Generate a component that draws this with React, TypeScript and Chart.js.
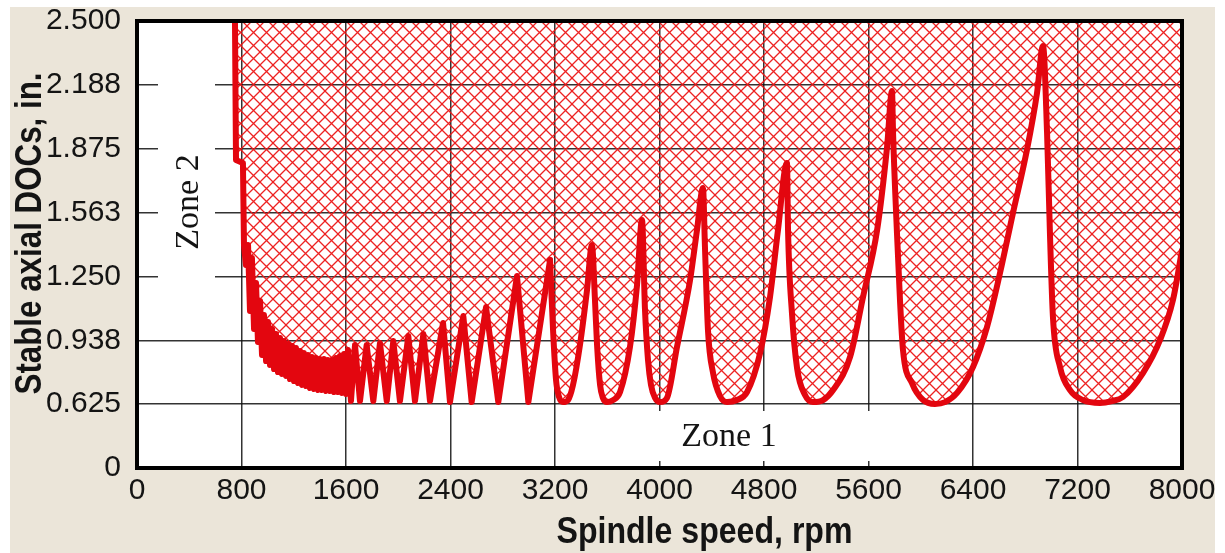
import { useEffect, useRef } from 'react';
import { Chart, registerables } from 'chart.js';

Chart.register(...registerables);

// Spindle speed (rpm) along the stability-lobe boundary
const spindleSpeedRpm = [
  750, 758, 811, 819,
  834, 850, 865, 880, 896, 911, 926, 942, 957, 972, 988, 1003, 1018, 1034, 1049, 1064,
  1079, 1095, 1110, 1125, 1141, 1156, 1171, 1187, 1202, 1217, 1233, 1248, 1263, 1278,
  1294, 1309, 1324, 1340, 1355, 1370, 1386, 1401, 1416, 1432, 1447, 1462, 1478, 1493,
  1508, 1523, 1539, 1554, 1569, 1585, 1600, 1615,
  1638, 1669, 1707, 1758, 1809, 1860, 1912, 1962, 2013, 2077, 2128, 2192, 2243, 2343,
  2396, 2498, 2562, 2672, 2766, 2909, 2996, 3162,
  3185, 3208, 3231, 3261, 3300, 3338, 3391, 3445, 3483,
  3506, 3522, 3545, 3567, 3598, 3644, 3698, 3774, 3828, 3866,
  3889, 3912, 3935, 3966, 4004, 4057, 4134, 4234, 4287, 4333,
  4348, 4371, 4410, 4463, 4517, 4593, 4670, 4770, 4846, 4907, 4976,
  4984, 5014, 5053, 5114, 5175, 5252, 5329, 5459, 5558, 5666, 5742, 5780,
  5788, 5818, 5841, 5864, 5933, 6018, 6109, 6186, 6278, 6400, 6507, 6607, 6706, 6813, 6890, 6936,
  6967, 6989, 7012, 7066, 7143, 7242, 7372, 7464, 7548, 7701, 7832, 7931, 8000,
];

// Stable axial depth of cut (in.) at each speed above
const stableDocIn = [
  2.5, 1.82, 1.805, 1.404,
  1.306, 1.404, 1.081, 1.34, 0.993, 1.218, 0.929, 1.13, 0.866, 1.061, 0.836, 1.027, 0.817, 0.993, 0.797, 0.968,
  0.782, 0.949, 0.773, 0.934, 0.763, 0.919, 0.748, 0.91, 0.738, 0.9, 0.728, 0.885, 0.719, 0.875,
  0.714, 0.866, 0.704, 0.856, 0.699, 0.851, 0.694, 0.846, 0.694, 0.846, 0.689, 0.841, 0.689, 0.841,
  0.684, 0.851, 0.684, 0.861, 0.68, 0.87, 0.675, 0.89,
  0.64, 0.914, 0.64, 0.914, 0.64, 0.924, 0.64, 0.934, 0.64, 0.958, 0.64, 0.968, 0.64, 1.022,
  0.635, 1.056, 0.635, 1.1, 0.635, 1.252, 0.635, 1.33,
  0.988, 0.743, 0.66, 0.635, 0.645, 0.719, 0.914, 1.183, 1.404,
  1.135, 0.914, 0.719, 0.655, 0.635, 0.645, 0.684, 0.905, 1.208, 1.526,
  1.086, 0.841, 0.719, 0.655, 0.635, 0.655, 0.905, 1.232, 1.477, 1.683,
  1.394, 0.988, 0.777, 0.665, 0.635, 0.645, 0.684, 0.875, 1.149, 1.477, 1.805,
  1.477, 1.071, 0.802, 0.67, 0.635, 0.645, 0.694, 0.856, 1.149, 1.477, 1.883, 2.157,
  1.952, 1.462, 1.135, 0.89, 0.728, 0.645, 0.626, 0.635, 0.68, 0.807, 1.002, 1.267, 1.56, 1.869, 2.147, 2.378,
  1.952, 1.462, 1.051, 0.807, 0.694, 0.645, 0.631, 0.64, 0.66, 0.777, 0.939, 1.135, 1.379,
];

// below this speed the lobes are narrow saw-teeth; above it they are rounded U-lobes
const sawToothEndRpm = 3162;

const xTickValues = [0, 800, 1600, 2400, 3200, 4000, 4800, 5600, 6400, 7200, 8000];
const xTickLabels = ['0', '800', '1600', '2400', '3200', '4000', '4800', '5600', '6400', '7200', '8000'];
// The axis is broken at the bottom: the lowest grid line is labelled 0
const yTickValues = [0.3125, 0.625, 0.9375, 1.25, 1.5625, 1.875, 2.1875, 2.5];
const yTickLabels = ['0', '0.625', '0.938', '1.250', '1.563', '1.875', '2.188', '2.500'];

const xAxisTitle = 'Spindle speed, rpm';
const yAxisTitle = 'Stable axial DOCs, in.';
const zoneStableLabel = 'Zone 1';
const zoneLowSpeedLabel = 'Zone 2';

const RED = '#e3060f';
const INK = '#141414';
const TITLE_FONT = "bold 37px 'Liberation Sans', Arial, sans-serif";
const ZONE_FONT = "34px 'Liberation Serif', 'Times New Roman', serif";

// draws condensed text: natural glyph height, squeezed to a target width
function drawCondensed(ctx: CanvasRenderingContext2D, text: string, width: number) {
  const natural = ctx.measureText(text).width;
  ctx.scale(width / natural, 1);
  ctx.fillText(text, 0, 0);
}

const framePlugin = {
  id: 'frame',
  beforeDraw(chart: any) {
    const { ctx, chartArea: a } = chart;
    ctx.save();
    ctx.fillStyle = '#ffffff';
    ctx.fillRect(a.left, a.top, a.right - a.left, a.bottom - a.top);
    ctx.restore();
  },
  beforeDatasetsDraw(chart: any) {
    const { ctx, chartArea: a } = chart;
    ctx.save();
    // white label boxes that interrupt the grid
    ctx.fillStyle = '#ffffff';
    ctx.fillRect(a.left + 21, a.top + 54, 57, 215);
    ctx.fillRect(a.left + 483, a.top + 390, 315, 50);
    ctx.fillStyle = INK;
    ctx.font = ZONE_FONT;
    ctx.textAlign = 'center';
    ctx.textBaseline = 'middle';
    ctx.fillText(zoneStableLabel, a.left + 592, a.top + 416);
    ctx.translate(a.left + 52, a.top + 181);
    ctx.rotate(-Math.PI / 2);
    ctx.fillText(zoneLowSpeedLabel, 0, 0);
    ctx.restore();
  },
  afterDraw(chart: any) {
    const { ctx, chartArea: a } = chart;
    ctx.save();
    ctx.strokeStyle = '#000000';
    ctx.lineWidth = 4;
    ctx.strokeRect(a.left, a.top, a.right - a.left, a.bottom - a.top);
    ctx.fillStyle = INK;
    ctx.font = TITLE_FONT;
    ctx.textAlign = 'center';
    ctx.textBaseline = 'alphabetic';
    ctx.save();
    ctx.translate((a.left + a.right) / 2 + 45, 543);
    drawCondensed(ctx, xAxisTitle, 296);
    ctx.restore();
    ctx.save();
    ctx.translate(41, (a.top + a.bottom) / 2 - 11);
    ctx.rotate(-Math.PI / 2);
    drawCondensed(ctx, yAxisTitle, 322);
    ctx.restore();
    ctx.restore();
  },
};

export default function App() {
  const ref = useRef<HTMLCanvasElement>(null);

  useEffect(() => {
    const canvas = ref.current;
    if (!canvas) return;

    const s = 13;
    const tile = document.createElement('canvas');
    tile.width = s;
    tile.height = s;
    const t = tile.getContext('2d')!;
    t.strokeStyle = 'rgba(236, 22, 22, 0.95)';
    t.lineWidth = 1.3;
    for (const o of [-s, 0, s]) {
      t.beginPath();
      t.moveTo(o, 0);
      t.lineTo(o + s, s);
      t.moveTo(o + s, 0);
      t.lineTo(o, s);
      t.stroke();
    }
    const hatch = canvas.getContext('2d')!.createPattern(tile, 'repeat');

    const points = spindleSpeedRpm.map((x, i) => ({ x, y: stableDocIn[i] }));
    const split = spindleSpeedRpm.indexOf(sawToothEndRpm);

    const lineStyle = {
      borderColor: RED,
      borderWidth: 6,
      borderJoinStyle: 'round' as const,
      borderCapStyle: 'round' as const,
      pointRadius: 0,
      fill: 'end',
      backgroundColor: hatch as any,
    };

    const gridStyle = {
      color: 'rgba(15, 15, 15, 0.85)',
      lineWidth: 1.5,
      drawTicks: false,
    };

    const chart = new Chart(canvas, {
      type: 'line',
      data: {
        datasets: [
          { ...lineStyle, data: points.slice(0, split + 1), tension: 0 },
          { ...lineStyle, data: points.slice(split), cubicInterpolationMode: 'monotone' },
        ],
      },
      options: {
        responsive: false,
        animation: false,
        devicePixelRatio: 1,
        layout: { padding: { top: 21, right: 43, left: 0, bottom: 0 } },
        plugins: { legend: { display: false }, tooltip: { enabled: false } },
        scales: {
          x: {
            type: 'linear',
            min: 0,
            max: 8000,
            afterBuildTicks: (scale: any) => {
              scale.ticks = xTickValues.map((value) => ({ value }));
            },
            afterFit: (scale: any) => {
              scale.height = 85;
              scale.paddingLeft = 0;
              scale.paddingRight = 0;
            },
            grid: gridStyle,
            border: { display: false },
            ticks: {
              autoSkip: false,
              maxRotation: 0,
              padding: 5,
              color: INK,
              font: { family: "'Liberation Sans', Arial, sans-serif", size: 30 },
              callback: (value: any) => xTickLabels[xTickValues.indexOf(Number(value))],
            },
          },
          y: {
            type: 'linear',
            min: 0.3125,
            max: 2.5,
            afterBuildTicks: (scale: any) => {
              scale.ticks = yTickValues.map((value) => ({ value }));
            },
            afterFit: (scale: any) => {
              scale.width = 137;
              scale.paddingTop = 0;
              scale.paddingBottom = 0;
            },
            grid: gridStyle,
            border: { display: false },
            ticks: {
              autoSkip: false,
              padding: 16,
              color: INK,
              font: { family: "'Liberation Sans', Arial, sans-serif", size: 30 },
              callback: (value: any) => yTickLabels[yTickValues.indexOf(Number(value))],
            },
          },
        },
      },
      plugins: [framePlugin],
    });

    return () => chart.destroy();
  }, []);

  return (
    <div style={{ position: 'fixed', left: 0, top: 0, width: 1225, height: 553, background: '#ffffff' }}>
      <div
        style={{
          position: 'absolute',
          left: 10,
          top: 7,
          width: 1205,
          height: 546,
          background: '#ebe5d9',
        }}
      />
      <canvas
        ref={ref}
        width={1225}
        height={553}
        style={{ position: 'absolute', left: 0, top: 0, width: 1225, height: 553 }}
      />
    </div>
  );
}
